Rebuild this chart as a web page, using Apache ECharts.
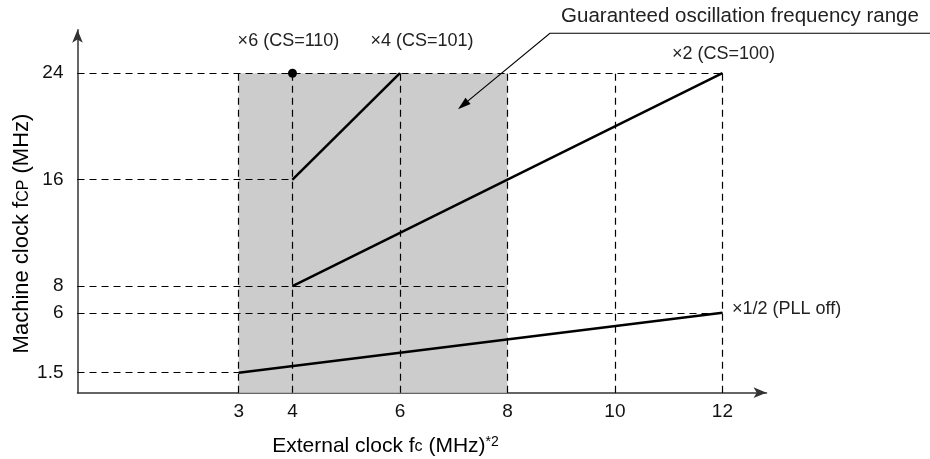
<!DOCTYPE html>
<html>
<head>
<meta charset="utf-8">
<script src="https://cdn.jsdelivr.net/npm/echarts@6/dist/echarts.min.js"></script>
<style>html,body{margin:0;padding:0;background:#fff}#c{width:930px;height:459px}</style>
</head>
<body>
<div id="c"></div>
<script>
// ---- data ----
const xTicks = [3, 4, 6, 8, 10, 12];
const yTicks = [1.5, 6, 8, 16, 24];
const pllOff = [[3, 1.5], [12, 6]];
const mult2 = [[4, 8], [12, 24]];
const mult4 = [[4, 16], [6, 24]];
const mult6 = [[4, 24]];
const seriesNames = ['×1/2 (PLL off)', '×2 (CS=100)', '×4 (CS=101)', '×6 (CS=110)'];
const rangeX = [3, 8];
const rangeY = [0, 24];
const hGuides = [[24, 12], [16, 4], [8, 8], [6, 12], [1.5, 3]]; // [y, x end]
const vGuides = [[3, 24], [4, 24], [6, 24], [8, 24], [10, 24], [12, 24]]; // [x, y end]
const pointerTip = [7.08, 21.3];
const pointerCorner = [8.79, 27.0];
const annotationText = 'Guaranteed oscillation frequency range';
const xTitle = ['External clock f', 'c', ' (MHz)', '*2'];
const yTitle = ['Machine clock f', 'CP', ' (MHz)'];

const FONT = 'Liberation Sans, Arial, sans-serif';
const chart = echarts.init(document.getElementById('c'));

function lastLabel(arr, label) {
  return arr.map((p, i) => i === arr.length - 1 ? { value: p, label: Object.assign({ show: true, color: '#222', fontSize: 18, fontFamily: FONT }, label) } : { value: p });
}

const guideData = hGuides.map(g => [{ coord: [0, g[0]] }, { coord: [g[1], g[0]] }])
  .concat(vGuides.map(g => [{ coord: [g[0], 0] }, { coord: [g[0], g[1]] }]));

const lineBase = {
  type: 'line', showSymbol: true, symbol: 'circle', symbolSize: 1,
  itemStyle: { color: '#000' }, lineStyle: { color: '#000', width: 2.5 },
  label: { show: false }, silent: true, animation: false, z: 5,
  emphasis: { disabled: true }
};

chart.setOption({
  animation: false,
  grid: { left: 77.5, right: 163.5, top: 29.8, bottom: 66.3, containLabel: false },
  xAxis: {
    type: 'value', min: 0, max: 12.82,
    axisLine: { show: true, symbol: ['none', 'arrow'], symbolSize: [8, 13], lineStyle: { color: '#333', width: 1.5 } },
    axisTick: { show: true, inside: true, length: 6, customValues: xTicks, lineStyle: { color: '#000' } },
    axisLabel: { customValues: xTicks, color: '#111', fontSize: 19, fontFamily: FONT, margin: 10 },
    splitLine: { show: false }
  },
  yAxis: {
    type: 'value', min: 0, max: 27.26,
    axisLine: { show: true, symbol: ['none', 'arrow'], symbolSize: [8, 13], lineStyle: { color: '#333', width: 1.5 } },
    axisTick: { show: true, inside: true, length: 6, customValues: yTicks, lineStyle: { color: '#000' } },
    axisLabel: { customValues: yTicks, color: '#111', fontSize: 19, fontFamily: FONT, margin: 14 },
    splitLine: { show: false }
  },
  series: [
    {
      type: 'line', data: [], silent: true, z: 1,
      markArea: {
        silent: true, itemStyle: { color: '#cccccc' },
        data: [[{ coord: [rangeX[0], rangeY[0]] }, { coord: [rangeX[1], rangeY[1]] }]]
      },
      markLine: {
        silent: true, symbol: ['none', 'none'], label: { show: false },
        lineStyle: { color: '#000', width: 1.2, type: [7, 5] },
        data: guideData
      }
    },
    Object.assign({}, lineBase, { name: seriesNames[0], data: lastLabel(pllOff, { position: 'right', distance: 9, offset: [0, -4], formatter: seriesNames[0] }) }),
    Object.assign({}, lineBase, { name: seriesNames[1], data: lastLabel(mult2, { position: 'top', distance: 10, offset: [1, 0], formatter: seriesNames[1] }) }),
    Object.assign({}, lineBase, { name: seriesNames[2], data: lastLabel(mult4, { position: 'top', distance: 23, offset: [22, 0], formatter: seriesNames[2] }) }),
    Object.assign({}, lineBase, { name: seriesNames[3], symbolSize: 9, z: 6, data: lastLabel(mult6, { position: 'top', distance: 19, offset: [-4, 0], formatter: seriesNames[3] }) })
  ]
});

const c = chart.convertToPixel({ gridIndex: 0 }, pointerCorner);
const t = chart.convertToPixel({ gridIndex: 0 }, pointerTip);
const dx = t[0] - c[0], dy = t[1] - c[1];
const len = Math.sqrt(dx * dx + dy * dy);
const ux = dx / len, uy = dy / len;
const bx = t[0] - ux * 13, by = t[1] - uy * 13;
const px = -uy * 4, py = ux * 4;

chart.setOption({
  graphic: [
    { type: 'polyline', silent: true, z: 100, shape: { points: [[930, c[1]], c, [bx, by]] }, style: { stroke: '#000', lineWidth: 1.2, fill: null } },
    { type: 'polygon', silent: true, z: 100, shape: { points: [t, [bx + px, by + py], [bx - px, by - py]] }, style: { fill: '#000' } },
    { type: 'text', silent: true, z: 100, x: 740, y: 16, style: { text: annotationText, font: '20.5px ' + FONT, fill: '#222', textAlign: 'center', textVerticalAlign: 'middle' } },
    {
      type: 'text', silent: true, z: 100, x: 385.5, y: 446,
      style: {
        text: '{a|' + xTitle[0] + '}{s|' + xTitle[1] + '}{a|' + xTitle[2] + '}{p|' + xTitle[3] + '}',
        textAlign: 'center', textVerticalAlign: 'middle',
        rich: {
          a: { fontSize: 21, lineHeight: 21, fontFamily: FONT, color: '#222', verticalAlign: 'bottom' },
          s: { fontSize: 16, lineHeight: 16, fontFamily: FONT, color: '#222', verticalAlign: 'bottom', padding: [0, 0, 1.5, 0] },
          p: { fontSize: 14, lineHeight: 14, fontFamily: FONT, color: '#222', verticalAlign: 'top' }
        }
      }
    },
    {
      type: 'text', silent: true, z: 100, x: 22, y: 233.5, rotation: Math.PI / 2,
      style: {
        text: '{a|' + yTitle[0] + '}{s|' + yTitle[1] + '}{a|' + yTitle[2] + '}',
        textAlign: 'center', textVerticalAlign: 'middle',
        rich: {
          a: { fontSize: 22, lineHeight: 22, fontFamily: FONT, color: '#222', verticalAlign: 'bottom' },
          s: { fontSize: 16, lineHeight: 16, fontFamily: FONT, color: '#222', verticalAlign: 'bottom', padding: [0, 0, 1.5, 0] }
        }
      }
    }
  ]
});
</script>
</body>
</html>
